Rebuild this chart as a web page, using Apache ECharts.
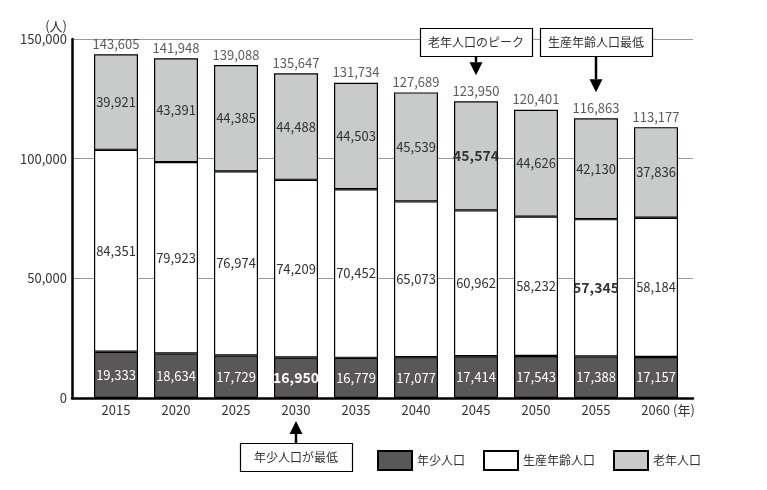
<!DOCTYPE html>
<html>
<head>
<meta charset="utf-8">
<script src="https://cdn.jsdelivr.net/npm/echarts@6/dist/echarts.min.js"></script>
<style>
  html, body { margin: 0; padding: 0; background: #fff; }
  #box { width: 767px; height: 490px; }
</style>
</head>
<body>
<div id="box"></div>
<script>
const years = ['2015', '2020', '2025', '2030', '2035', '2040', '2045', '2050', '2055', '2060'];
const young = [19333, 18634, 17729, 16950, 16779, 17077, 17414, 17543, 17388, 17157];
const working = [84351, 79923, 76974, 74209, 70452, 65073, 60962, 58232, 57345, 58184];
const elderly = [39921, 43391, 44385, 44488, 44503, 45539, 45574, 44626, 42130, 37836];
const totals = [143605, 141948, 139088, 135647, 131734, 127689, 123950, 120401, 116863, 113177];
const yTicks = [0, 50000, 100000, 150000];

// highlighted values (bold)
const youngMinYear = '2030';
const elderlyPeakYear = '2045';
const workingMinYear = '2055';

const FONT = '"Noto Sans CJK JP", "Noto Sans", sans-serif';
const fmt = v => v.toLocaleString('en-US');
const yMax = yTicks[yTicks.length - 1];
const yStep = yTicks[1] - yTicks[0];

const chartDom = document.getElementById('box');
const myChart = echarts.init(chartDom);

const toData = (vals, boldYear) => years.map((y, i) => {
  const item = { value: vals[i] };
  if (y === boldYear) item.label = { fontWeight: 'bold', fontSize: 14 };
  return item;
});

const barBase = {
  type: 'bar',
  stack: 'pop',
  barWidth: 44,
  xAxisIndex: 1,
  yAxisIndex: 1,
  label: {
    show: true,
    position: 'inside',
    fontSize: 13,
    color: '#333',
    fontFamily: FONT,
    formatter: p => fmt(p.value)
  }
};

var option = {
  animation: false,
  textStyle: { fontFamily: FONT },
  grid: [
    // frame: axis lines + grid lines
    { left: 72, right: 74, top: 39, bottom: 92 },
    // bars
    { left: 86, right: 81, top: 39, bottom: 92 }
  ],
  legend: {
    data: ['年少人口', '生産年齢人口', '老年人口'],
    icon: 'rect',
    left: 372,
    top: 445,
    itemWidth: 34,
    itemHeight: 19,
    itemGap: 18,
    textStyle: { fontSize: 12, color: '#333', fontFamily: FONT }
  },
  xAxis: [
    {
      gridIndex: 0,
      type: 'value',
      min: 0,
      max: 1,
      splitLine: { show: false },
      axisTick: { show: false },
      axisLabel: { show: false },
      axisLine: { show: true, lineStyle: { color: '#000', width: 2.5 } }
    },
    {
      gridIndex: 1,
      type: 'category',
      data: years,
      axisLine: { show: false },
      axisTick: { show: false },
      axisLabel: {
        interval: 0,
        fontSize: 13,
        color: '#333',
        margin: 6,
        formatter: v => v === years[years.length - 1] ? '{p|}' + v + ' (年)' : v,
        rich: { p: { width: 24 } }
      }
    }
  ],
  yAxis: [
    {
      gridIndex: 0,
      type: 'value',
      min: 0,
      max: yMax,
      interval: yStep,
      name: '(人)',
      nameGap: 2,
      nameTextStyle: { align: 'right', padding: [0, 5, 0, 0], fontSize: 13, color: '#333' },
      axisLine: { show: true, lineStyle: { color: '#000', width: 2.5 } },
      axisTick: { show: false },
      axisLabel: { fontSize: 13, color: '#333', margin: 5, formatter: v => fmt(v) },
      splitLine: { show: true, lineStyle: { color: '#999', width: 1 } }
    },
    {
      gridIndex: 1,
      type: 'value',
      min: 0,
      max: yMax,
      interval: yStep,
      show: false,
      splitLine: { show: false }
    }
  ],
  series: [
    Object.assign({}, barBase, {
      name: '年少人口',
      data: toData(young, youngMinYear),
      itemStyle: { color: '#595757', borderColor: '#000', borderWidth: 1.2 },
      label: Object.assign({}, barBase.label, { color: '#fff' })
    }),
    Object.assign({}, barBase, {
      name: '生産年齢人口',
      data: toData(working, workingMinYear),
      itemStyle: { color: '#fff', borderColor: '#000', borderWidth: 1.2 }
    }),
    Object.assign({}, barBase, {
      name: '老年人口',
      data: toData(elderly, elderlyPeakYear),
      itemStyle: { color: '#c9caca', borderColor: '#000', borderWidth: 1.2 }
    }),
    {
      name: '総人口',
      type: 'scatter',
      xAxisIndex: 1,
      yAxisIndex: 1,
      symbolSize: 0,
      silent: true,
      data: totals,
      label: {
        show: true,
        position: 'top',
        distance: 4,
        fontSize: 13,
        color: '#333',
        formatter: p => fmt(p.value)
      }
    }
  ]
};
myChart.setOption(option);

// annotation boxes with arrows, placed from the data positions
const px = (yr, v) => myChart.convertToPixel({ gridIndex: 1 }, [yr, v]);
const graphics = [];
const addBox = (cx, top, text) => {
  const w = 112, h = 28;
  graphics.push({
    type: 'rect', z: 100,
    shape: { x: Math.round(cx - w / 2) + 0.5, y: top + 0.5, width: w, height: h },
    style: { fill: '#fff', stroke: '#000', lineWidth: 1.2 }
  });
  graphics.push({
    type: 'text', z: 101,
    style: { text: text, x: cx, y: top + h / 2, textAlign: 'center', textVerticalAlign: 'middle', font: '12px ' + FONT, fill: '#333' }
  });
};
const addArrow = (x, from, tip) => {
  const dir = tip > from ? 1 : -1;
  const head = 13;
  graphics.push({
    type: 'line', z: 100,
    shape: { x1: x, y1: from, x2: x, y2: tip - dir * head },
    style: { stroke: '#000', lineWidth: 2.5 }
  });
  graphics.push({
    type: 'polygon', z: 100,
    shape: { points: [[x - 6.5, tip - dir * head], [x + 6.5, tip - dir * head], [x, tip]] },
    style: { fill: '#000' }
  });
};

const p45 = px(elderlyPeakYear, totals[years.indexOf(elderlyPeakYear)]);
addBox(p45[0], 28, '老年人口のピーク');
addArrow(p45[0], 56, p45[1] - 26);

const p55 = px(workingMinYear, totals[years.indexOf(workingMinYear)]);
addBox(p55[0], 28, '生産年齢人口最低');
addArrow(p55[0], 56, p55[1] - 26);

const p30 = px(youngMinYear, 0);
addBox(p30[0], 443, '年少人口が最低');
addArrow(p30[0], 443, p30[1] + 23);

myChart.setOption({ graphic: graphics });

window.addEventListener('resize', function () {
  if (myChart) {
    myChart.resize();
  }
});
</script>
</body>
</html>
